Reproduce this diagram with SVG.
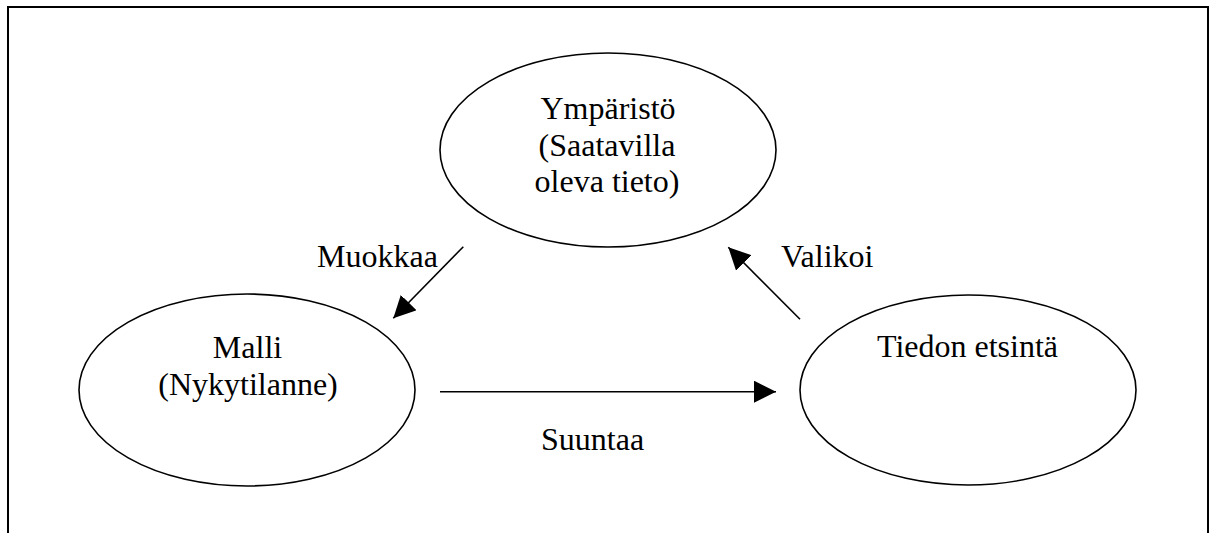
<svg xmlns="http://www.w3.org/2000/svg" width="1209" height="533" viewBox="0 0 1209 533">
<style>
.node{fill:none;stroke:#000;stroke-width:1.6}
.t{font-family:"Liberation Serif","Times New Roman",serif;font-size:32px;fill:#000}
.c{text-anchor:middle}
.edge{stroke:#000;stroke-width:1.6;fill:none}
</style>
<defs>
<marker id="ah" markerUnits="userSpaceOnUse" markerWidth="22" markerHeight="22" refX="20" refY="10" orient="auto" viewBox="0 0 20 20">
<path d="M0,0 L20,10 L0,20 Z" fill="#000"/>
</marker>
</defs>
<rect width="1209" height="533" fill="#fff"/>
<path d="M8,540 V7 H1208 V540" fill="none" stroke="#000" stroke-width="2"/>
<g id="ymparisto">
<ellipse class="node" cx="608" cy="150" rx="168" ry="97"/>
<text class="t c" x="608" y="119">Ympäristö</text>
<text class="t c" x="607" y="155.5">(Saatavilla</text>
<text class="t c" x="607" y="192">oleva tieto)</text>
</g>
<g id="malli">
<ellipse class="node" cx="247" cy="390" rx="168" ry="96"/>
<text class="t c" x="247.5" y="358">Malli</text>
<text class="t c" x="248" y="395">(Nykytilanne)</text>
</g>
<g id="tiedon">
<ellipse class="node" cx="968" cy="390" rx="168" ry="95"/>
<text class="t c" x="967.5" y="357">Tiedon etsintä</text>
</g>
<g id="connectors">
<line class="edge" x1="463.3" y1="246.7" x2="393.3" y2="318.3" marker-end="url(#ah)"/>
<line class="edge" x1="800" y1="319.3" x2="728.3" y2="247.3" marker-end="url(#ah)"/>
<line class="edge" x1="440" y1="391.7" x2="776" y2="391.7" marker-end="url(#ah)"/>
<text class="t" x="317" y="267">Muokkaa</text>
<text class="t" x="781" y="267">Valikoi</text>
<text class="t" x="541" y="450">Suuntaa</text>
</g>
</svg>
